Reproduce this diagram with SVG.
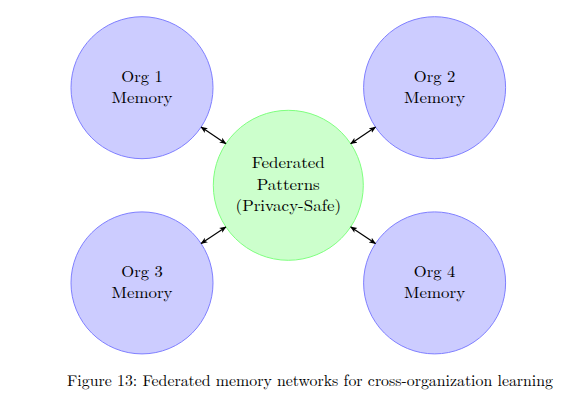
<svg xmlns="http://www.w3.org/2000/svg" width="578" height="406" viewBox="0 0 578 406">
<style>
.org{fill:#ccccff;stroke:#7f7fff;stroke-width:1}
.fed{fill:#ccffcc;stroke:#7fff7f;stroke-width:1}
text{font-family:"Latin Modern Roman","Liberation Serif","DejaVu Serif",serif;fill:#000;text-anchor:middle}
.lbl{font-size:16px}
.cap{font-size:15.5px;text-anchor:start}
.conn line{stroke:#000;stroke-width:1.2;marker-start:url(#ah);marker-end:url(#ah)}
</style>
<defs>
<marker id="ah" viewBox="0 0 10 10" refX="9" refY="5" markerWidth="7" markerHeight="7" markerUnits="userSpaceOnUse" orient="auto-start-reverse">
<path d="M0,1 L10,5 L0,9 L2.5,5 Z" fill="#000"/>
</marker>
</defs>
<rect width="578" height="406" fill="#fff"/>
<g id="org1"><circle class="org" cx="142" cy="87.7" r="71"/><text class="lbl" x="142" y="82" textLength="41.5" lengthAdjust="spacingAndGlyphs">Org 1</text><text class="lbl" x="142" y="103.2" textLength="61" lengthAdjust="spacingAndGlyphs">Memory</text></g>
<g id="org2"><circle class="org" cx="434.6" cy="87.7" r="71"/><text class="lbl" x="434.6" y="82" textLength="41.5" lengthAdjust="spacingAndGlyphs">Org 2</text><text class="lbl" x="434.6" y="103.2" textLength="61" lengthAdjust="spacingAndGlyphs">Memory</text></g>
<g id="org3"><circle class="org" cx="142" cy="282.9" r="71"/><text class="lbl" x="142" y="277.2" textLength="41.5" lengthAdjust="spacingAndGlyphs">Org 3</text><text class="lbl" x="142" y="298.4" textLength="61" lengthAdjust="spacingAndGlyphs">Memory</text></g>
<g id="org4"><circle class="org" cx="434.6" cy="282.9" r="71"/><text class="lbl" x="434.6" y="277.2" textLength="41.5" lengthAdjust="spacingAndGlyphs">Org 4</text><text class="lbl" x="434.6" y="298.4" textLength="61" lengthAdjust="spacingAndGlyphs">Memory</text></g>
<g id="fed"><circle class="fed" cx="288.3" cy="185.3" r="75"/><text class="lbl" x="288.3" y="168.3" textLength="73" lengthAdjust="spacingAndGlyphs">Federated</text><text class="lbl" x="288.3" y="189.5" textLength="63" lengthAdjust="spacingAndGlyphs">Patterns</text><text class="lbl" x="288.3" y="210.7" textLength="105.5" lengthAdjust="spacingAndGlyphs">(Privacy-Safe)</text></g>
<g id="connectors" class="conn">
<line x1="201.1" y1="127.1" x2="225.9" y2="143.7"/>
<line x1="375.5" y1="127.1" x2="350.7" y2="143.7"/>
<line x1="201.1" y1="243.5" x2="225.9" y2="226.9"/>
<line x1="375.5" y1="243.5" x2="350.7" y2="226.9"/>
</g>
<text class="cap" x="67" y="386" textLength="486" lengthAdjust="spacingAndGlyphs">Figure 13: Federated memory networks for cross-organization learning</text>
</svg>
